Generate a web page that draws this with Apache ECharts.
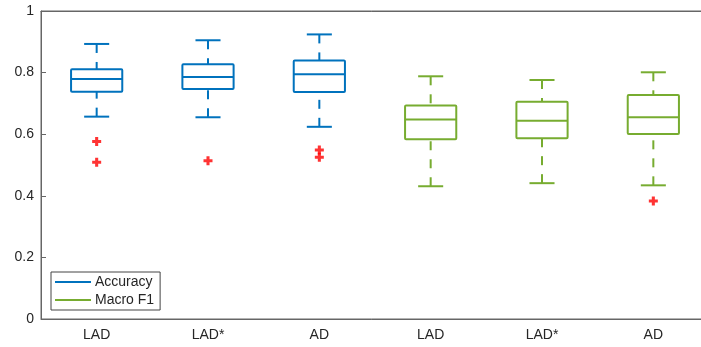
<!DOCTYPE html>
<html><head><meta charset="utf-8">
<script src="https://cdn.jsdelivr.net/npm/echarts@6/dist/echarts.min.js"></script>
<style>html,body{margin:0;padding:0;background:#fff}#c{width:701px;height:347px}</style>
</head><body><div id="c"></div>
<script>
var categories = ['LAD', 'LAD*', 'AD', 'LAD', 'LAD*', 'AD'];
var yTicks = [0, 0.2, 0.4, 0.6, 0.8, 1];
// [category index, lower whisker, Q1, median, Q3, upper whisker]
var accuracyBoxes = [
  [0, 0.657, 0.738, 0.779, 0.811, 0.893],
  [1, 0.655, 0.747, 0.786, 0.827, 0.905],
  [2, 0.624, 0.737, 0.795, 0.839, 0.924]
];
var macroF1Boxes = [
  [3, 0.431, 0.584, 0.648, 0.693, 0.788],
  [4, 0.441, 0.587, 0.644, 0.705, 0.776],
  [5, 0.434, 0.601, 0.655, 0.727, 0.801]
];
var outliers = [
  [0, 0.576], [0, 0.509],
  [1, 0.514],
  [2, 0.549], [2, 0.525],
  [5, 0.383]
];

var FONT = 'Liberation Sans, Arial, Helvetica, sans-serif';
var BLUE = '#0072BD', GREEN = '#77AC30';

function makeRender(color) {
  return function (params, api) {
    var x = api.value(0);
    var band = api.size([1, 0])[0];
    var bw = band * 0.46, cw = band * 0.225;
    var pLo = api.coord([x, api.value(1)]);
    var pQ1 = api.coord([x, api.value(2)]);
    var pMed = api.coord([x, api.value(3)]);
    var pQ3 = api.coord([x, api.value(4)]);
    var pHi = api.coord([x, api.value(5)]);
    var cx = pMed[0];
    var st = {stroke: color, lineWidth: 2, fill: null, lineJoin: 'round'};
    var dash = {stroke: color, lineWidth: 2, lineDash: [9, 9]};
    return {
      type: 'group',
      children: [
        {type: 'line', shape: {x1: cx, y1: pHi[1], x2: cx, y2: pQ3[1]}, style: dash},
        {type: 'line', shape: {x1: cx, y1: pLo[1], x2: cx, y2: pQ1[1]}, style: dash},
        {type: 'line', shape: {x1: cx - cw / 2, y1: pHi[1], x2: cx + cw / 2, y2: pHi[1]}, style: st},
        {type: 'line', shape: {x1: cx - cw / 2, y1: pLo[1], x2: cx + cw / 2, y2: pLo[1]}, style: st},
        {type: 'rect', shape: {x: cx - bw / 2, y: pQ3[1], width: bw, height: pQ1[1] - pQ3[1], r: 1}, style: st},
        {type: 'line', shape: {x1: cx - bw / 2, y1: pMed[1], x2: cx + bw / 2, y2: pMed[1]}, style: st}
      ]
    };
  };
}

var chart = echarts.init(document.getElementById('c'), null, {renderer: 'canvas'});
chart.setOption({
  animation: false,
  backgroundColor: '#fff',
  textStyle: {fontFamily: FONT},
  grid: {left: 41, top: 11, height: 308, width: 668, outerBoundsMode: 'none', containLabel: false,
    show: true, borderColor: '#666', borderWidth: 1, backgroundColor: 'transparent'},
  legend: {
    orient: 'vertical', left: 51, top: 272,
    data: [{name: 'Accuracy'}, {name: 'Macro F1'}],
    icon: 'rect', itemWidth: 36, itemHeight: 2, itemGap: 4,
    padding: [3, 6, 3, 4],
    backgroundColor: '#fff', borderColor: '#444', borderWidth: 1, borderRadius: 0,
    textStyle: {fontFamily: FONT, fontSize: 14, color: '#262626', lineHeight: 14, padding: [0, 0, 0, -1]}
  },
  xAxis: [{
    type: 'category', data: categories, boundaryGap: true,
    axisLine: {lineStyle: {color: '#666', width: 1}},
    axisTick: {inside: true, alignWithLabel: true, length: 5, lineStyle: {color: '#666'}},
    axisLabel: {color: '#262626', fontSize: 14, fontFamily: FONT, margin: 9},
    splitLine: {show: false}
  }, {
    type: 'category', data: categories, boundaryGap: true, position: 'top',
    axisLine: {lineStyle: {color: '#666', width: 1}},
    axisTick: {inside: true, alignWithLabel: true, length: 5, lineStyle: {color: '#666'}},
    axisLabel: {show: false}, splitLine: {show: false}
  }],
  yAxis: {
    type: 'value', min: yTicks[0], max: yTicks[yTicks.length - 1], interval: 0.2,
    axisLine: {show: true, lineStyle: {color: '#666', width: 1}},
    axisTick: {show: true, inside: true, length: 5, lineStyle: {color: '#666'}},
    axisLabel: {color: '#262626', fontSize: 14, fontFamily: FONT, margin: 7},
    splitLine: {show: false}
  },
  series: [{
    name: 'Accuracy', type: 'custom', renderItem: makeRender(BLUE),
    itemStyle: {color: BLUE}, encode: {x: 0, y: [1, 2, 3, 4, 5]},
    data: accuracyBoxes, clip: false
  }, {
    name: 'Macro F1', type: 'custom', renderItem: makeRender(GREEN),
    itemStyle: {color: GREEN}, encode: {x: 0, y: [1, 2, 3, 4, 5]},
    data: macroF1Boxes, clip: false
  }, {
    name: 'outliers', type: 'scatter',
    symbol: 'path://M3.3,0H6.7V3.3H10V6.7H6.7V10H3.3V6.7H0V3.3H3.3Z',
    symbolSize: 9, itemStyle: {color: '#FF0000'},
    data: outliers
  }]
});
</script></body></html>
